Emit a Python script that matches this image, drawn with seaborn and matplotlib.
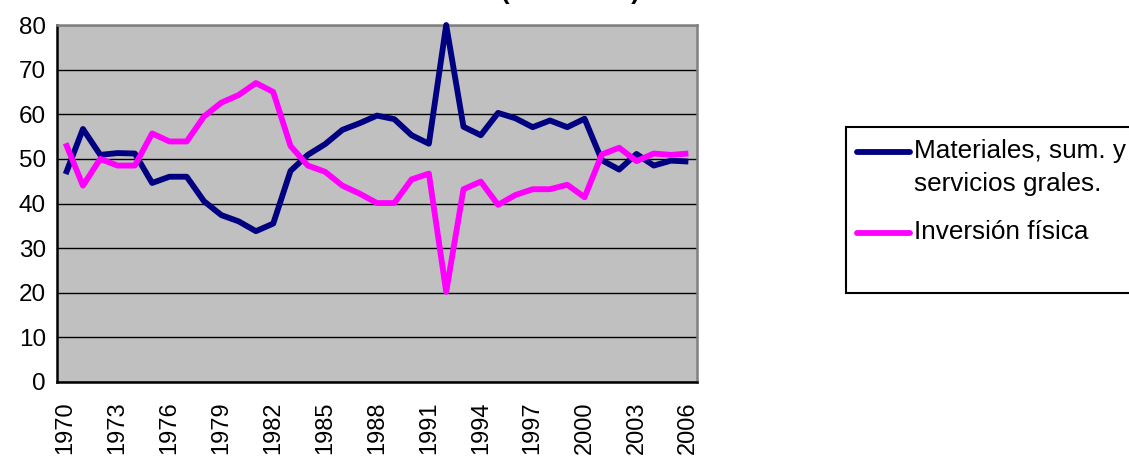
import matplotlib
matplotlib.use("Agg")
import matplotlib.pyplot as plt
from matplotlib.lines import Line2D
from matplotlib.patches import Rectangle
import numpy as np
import pandas as pd
import seaborn as sns

years = list(range(1970, 2007))

materiales = [46.6, 56.7, 50.9, 51.3, 51.2, 44.6, 46.0, 46.0, 40.5, 37.4,
              36.0, 33.8, 35.5, 47.3, 50.9, 53.3, 56.5, 58.0, 59.7, 58.9,
              55.3, 53.4, 80.0, 57.2, 55.3, 60.3, 59.1, 57.1, 58.6, 57.1,
              59.0, 49.7, 47.6, 51.1, 48.5, 49.6, 49.4]

inversion = [53.5, 44.0, 50.0, 48.5, 48.5, 55.7, 53.9, 53.9, 59.5, 62.6,
             64.3, 67.0, 65.0, 52.9, 48.5, 47.1, 44.0, 42.2, 40.1, 40.1,
             45.4, 46.7, 20.2, 43.2, 44.9, 39.7, 41.9, 43.2, 43.2, 44.2,
             41.4, 51.0, 52.5, 49.5, 51.2, 50.9, 51.2]

series_names = ["Materiales, sum. y\nservicios grales.", "Inversión física"]
series_colors = ["#000080", "#FF00FF"]

df = pd.DataFrame({
    "pos": list(range(len(years))) * 2,
    "valor": materiales + inversion,
    "serie": [series_names[0]] * len(years) + [series_names[1]] * len(years),
})

sns.set_style("white")
plt.rcParams["font.family"] = ["Liberation Sans", "DejaVu Sans"]
plt.rcParams["text.color"] = "black"
plt.rcParams["xtick.color"] = "black"
plt.rcParams["ytick.color"] = "black"

W, H = 1129, 457
fig = plt.figure(figsize=(W / 100, H / 100), dpi=100)
ax = fig.add_axes([57 / W, (H - 382) / H, 640 / W, 357 / H])
ax.set_facecolor("#C0C0C0")

sns.lineplot(data=df, x="pos", y="valor", hue="serie",
             palette=dict(zip(series_names, series_colors)),
             linewidth=4.2, legend=False, ax=ax, sort=False)
for ln in ax.get_lines():
    ln.set_clip_on(False)
    ln.set_solid_joinstyle("round")
    ln.set_solid_capstyle("butt")
    ln.set_zorder(3)

ax.set_xlim(-0.5, len(years) - 0.5)
ax.set_ylim(0, 80)
ax.set_yticks(range(0, 81, 10))
ax.yaxis.grid(True, color="black", linewidth=1.0)
ax.set_axisbelow(True)

label_pos = list(range(0, len(years), 3))
ax.set_xticks(label_pos)
ax.set_xticklabels([str(years[i]) for i in label_pos], rotation=90)
ax.set_xticks(np.arange(-0.5, len(years), 1.0), minor=True)
ax.tick_params(axis="x", which="major", length=0, pad=14, labelsize=17,
               labelcolor="black")
ax.tick_params(axis="x", which="minor", length=6, width=1.3, color="black",
               direction="out")
ax.tick_params(axis="y", which="major", length=6, width=1.3, color="black",
               direction="out", labelsize=17.5, pad=2, labelcolor="black")
ax.set_xlabel("")
ax.set_ylabel("")

for side in ("left", "bottom"):
    ax.spines[side].set_color("black")
    ax.spines[side].set_linewidth(1.8)
for side in ("top", "right"):
    ax.spines[side].set_color("#808080")
    ax.spines[side].set_linewidth(1.8)

# title, mostly above the top edge
fig.text(640 / W, 1.0 + 1 / H, "(1970-2006)", ha="right", va="baseline",
         fontsize=18.5, fontweight="bold", color="black")

# legend box on the right
def fx(px):
    return px / W

def fy(py):
    return 1 - py / H

fig.add_artist(Rectangle((fx(846), fy(293)), fx(1140) - fx(846), fy(127) - fy(293),
                         transform=fig.transFigure, facecolor="white",
                         edgecolor="black", linewidth=1.5, clip_on=False))
entries = [(152, series_names[0], series_colors[0]),
           (233, series_names[1], series_colors[1])]
for py, name, color in entries:
    fig.add_artist(Line2D([fx(857), fx(910)], [fy(py), fy(py)],
                          transform=fig.transFigure, color=color,
                          linewidth=4.2, solid_capstyle="round"))
    fig.text(fx(914), fy(py - 13), name, ha="left", va="top", fontsize=18.8,
             linespacing=1.45, color="black")

fig.savefig("out.png", dpi=100)
